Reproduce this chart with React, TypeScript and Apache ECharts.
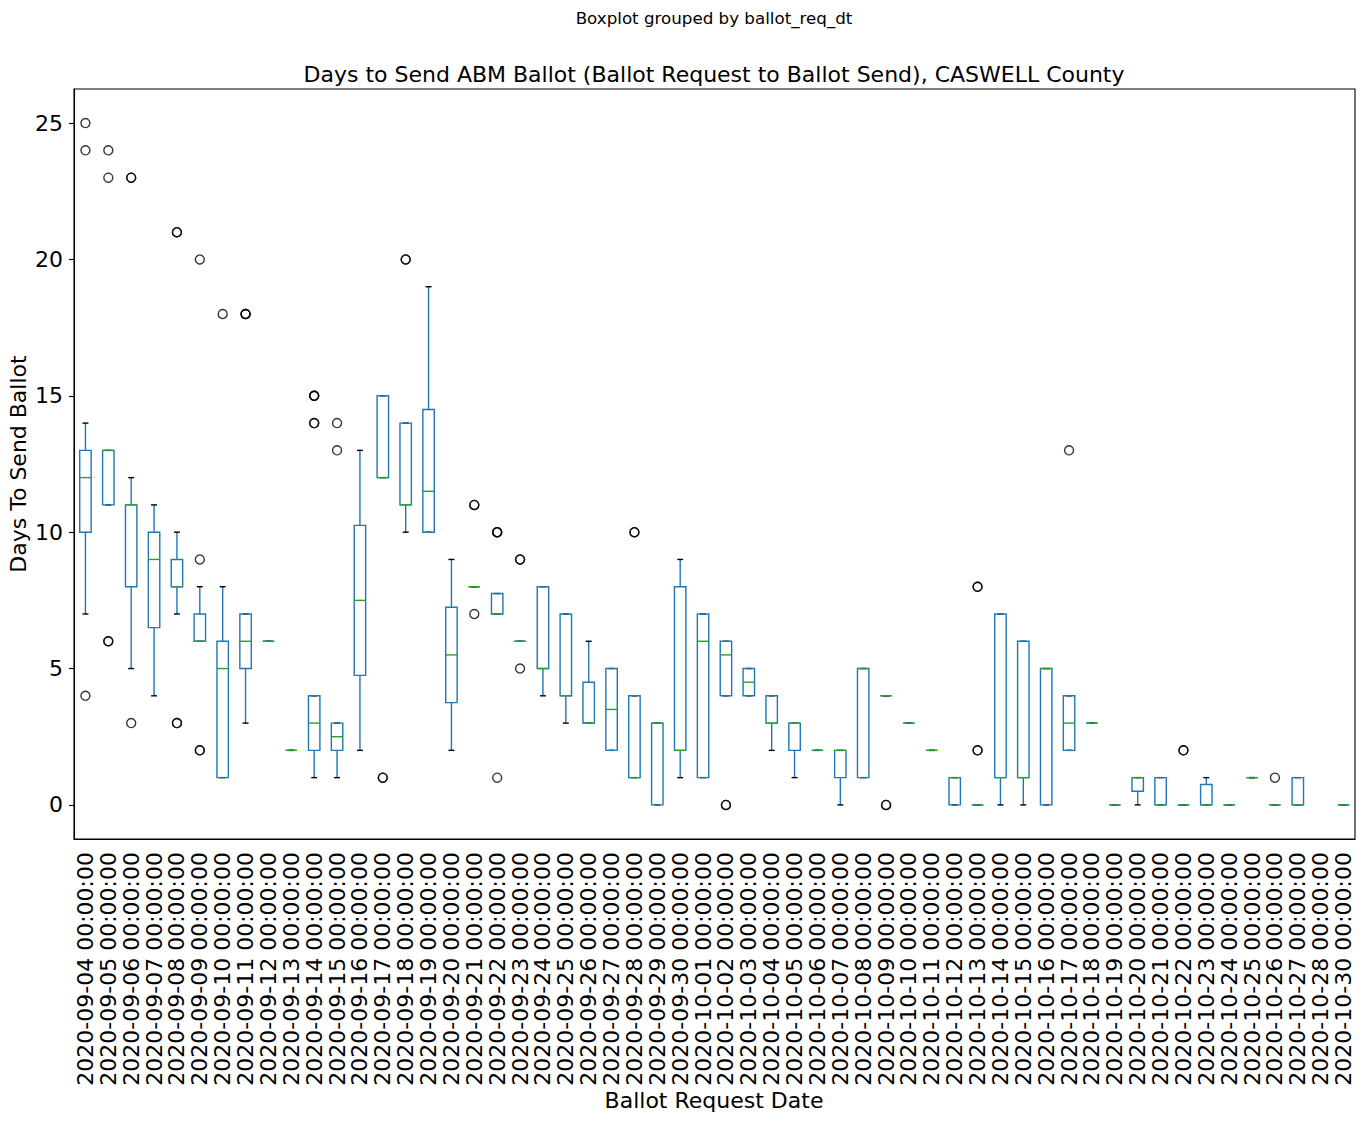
import React, { useEffect, useRef } from "react";
import * as echarts from "echarts";

const categories: string[] = [
  "2020-09-04", "2020-09-05", "2020-09-06", "2020-09-07", "2020-09-08", "2020-09-09", "2020-09-10",
  "2020-09-11", "2020-09-12", "2020-09-13", "2020-09-14", "2020-09-15", "2020-09-16", "2020-09-17",
  "2020-09-18", "2020-09-19", "2020-09-20", "2020-09-21", "2020-09-22", "2020-09-23", "2020-09-24",
  "2020-09-25", "2020-09-26", "2020-09-27", "2020-09-28", "2020-09-29", "2020-09-30", "2020-10-01",
  "2020-10-02", "2020-10-03", "2020-10-04", "2020-10-05", "2020-10-06", "2020-10-07", "2020-10-08",
  "2020-10-09", "2020-10-10", "2020-10-11", "2020-10-12", "2020-10-13", "2020-10-14", "2020-10-15",
  "2020-10-16", "2020-10-17", "2020-10-18", "2020-10-19", "2020-10-20", "2020-10-21", "2020-10-22",
  "2020-10-23", "2020-10-24", "2020-10-25", "2020-10-26", "2020-10-27", "2020-10-28", "2020-10-30",
];

// whisker low, Q1, median, Q3, whisker high (null = no data)
const lows: (number | null)[] = [
  7, 11, 5, 4, 7, 6, 1, 3, 6, 2, 1, 1, 2, 12, 10, 10, 2, 8, 7, 6, 4, 3, 3, 2, 1, 0, 1, 1,
  4, 4, 2, 1, 2, 0, 1, 4, 3, 2, 0, 0, 0, 0, 0, 2, 3, 0, 0, 0, 0, 0, 0, 1, 0, 0, null, 0,
];
const q1s: (number | null)[] = [
  10, 11, 8, 6.5, 8, 6, 1, 5, 6, 2, 2, 2, 4.75, 12, 11, 10, 3.75, 8, 7, 6, 5, 4, 3, 2, 1, 0, 2, 1,
  4, 4, 3, 2, 2, 1, 1, 4, 3, 2, 0, 0, 1, 1, 0, 2, 3, 0, 0.5, 0, 0, 0, 0, 1, 0, 0, null, 0,
];
const medians: (number | null)[] = [
  12, 13, 11, 9, 8, 6, 5, 6, 6, 2, 3, 2.5, 7.5, 12, 11, 11.5, 5.5, 8, 7, 6, 5, 4, 3, 3.5, 1, 3, 2, 6,
  5.5, 4.5, 3, 3, 2, 2, 5, 4, 3, 2, 1, 0, 1, 1, 5, 3, 3, 0, 1, 0, 0, 0, 0, 1, 0, 0, null, 0,
];
const q3s: (number | null)[] = [
  13, 13, 11, 10, 9, 7, 6, 7, 6, 2, 4, 3, 10.25, 15, 14, 14.5, 7.25, 8, 7.75, 6, 8, 7, 4.5, 5, 4, 3, 8, 7,
  6, 5, 4, 3, 2, 2, 5, 4, 3, 2, 1, 0, 7, 6, 5, 4, 3, 0, 1, 1, 0, 0.75, 0, 1, 0, 1, null, 0,
];
const highs: (number | null)[] = [
  14, 13, 12, 11, 10, 8, 8, 7, 6, 2, 4, 3, 13, 15, 14, 19, 9, 8, 7.75, 6, 8, 7, 6, 5, 4, 3, 9, 7,
  6, 5, 4, 3, 2, 2, 5, 4, 3, 2, 1, 0, 7, 6, 5, 4, 3, 0, 1, 1, 0, 1, 0, 1, 0, 1, null, 0,
];
// outliers: [category index, value]; repeated entries are repeated values (drawn on top of each other)
const outliers: [number, number][] = [
  [0, 25], [0, 24], [0, 4],
  [1, 24], [1, 23], [1, 6], [1, 6],
  [2, 23], [2, 23], [2, 3],
  [4, 21], [4, 21], [4, 3], [4, 3],
  [5, 20], [5, 9], [5, 2], [5, 2],
  [6, 18],
  [7, 18], [7, 18], [7, 18],
  [10, 15], [10, 15], [10, 15], [10, 14], [10, 14],
  [11, 14], [11, 13],
  [13, 1], [13, 1],
  [14, 20], [14, 20],
  [17, 11], [17, 11], [17, 7],
  [18, 10], [18, 10], [18, 10], [18, 1],
  [19, 9], [19, 9], [19, 5],
  [24, 10], [24, 10],
  [28, 0], [28, 0],
  [35, 0], [35, 0],
  [39, 8], [39, 8], [39, 2], [39, 2],
  [43, 13],
  [48, 2], [48, 2],
  [52, 1],
];
const yTicks: number[] = [0, 5, 10, 15, 20, 25];

const FONT = "DejaVu Sans";
const BLUE = "#1f77b4";
const GREEN = "#2ca02c";
const LW = 1.4;

export default function App() {
  const ref = useRef<HTMLDivElement>(null);
  useEffect(() => {
    if (!ref.current) return;
    const chart = echarts.init(ref.current, undefined, { renderer: "svg" });
    const boxData: number[][] = [];
    categories.forEach((_, i) => {
      if (lows[i] == null) return;
      boxData.push([i, lows[i] as number, q1s[i] as number, medians[i] as number, q3s[i] as number, highs[i] as number]);
    });
    const option: any = {
      animation: false,
      grid: { left: 74, right: 8, top: 89, bottom: 283, show: true, borderColor: "#000", borderWidth: 1.1 },
      xAxis: {
        type: "category",
        data: categories.map((c) => c + " 00:00:00"),
        boundaryGap: true,
        axisLine: { onZero: false, lineStyle: { color: "#000", width: 1.1 } },
        axisTick: { alignWithLabel: true, interval: 0, length: 5, lineStyle: { color: "#000", width: 1.1 } },
        axisLabel: { interval: 0, rotate: 90, fontSize: 22, fontFamily: FONT, color: "#000", margin: 13 },
        splitLine: { show: false },
      },
      yAxis: {
        type: "value",
        min: -1.25,
        max: 26.25,
        axisLine: { show: true, onZero: false, lineStyle: { color: "#000", width: 1.1 } },
        axisTick: { show: true, length: 5, customValues: yTicks, lineStyle: { color: "#000", width: 1.1 } },
        axisLabel: { customValues: yTicks, fontSize: 22, fontFamily: FONT, color: "#000", margin: 11 },
        splitLine: { show: false },
      },
      series: [
        {
          type: "custom",
          data: boxData,
          encode: { x: 0, y: [1, 2, 3, 4, 5] },
          renderItem: (params: any, api: any) => {
            const idx = api.value(0);
            const lo = api.value(1);
            const q1 = api.value(2);
            const md = api.value(3);
            const q3 = api.value(4);
            const hi = api.value(5);
            const band = api.size([1, 0])[0];
            const half = band * 0.25;
            const capHalf = band * 0.13;
            const pLo = api.coord([idx, lo]);
            const pQ1 = api.coord([idx, q1]);
            const pMd = api.coord([idx, md]);
            const pQ3 = api.coord([idx, q3]);
            const pHi = api.coord([idx, hi]);
            const x = pMd[0];
            return {
              type: "group",
              children: [
                { type: "line", shape: { x1: x, y1: pQ1[1], x2: x, y2: pLo[1] }, style: { stroke: BLUE, lineWidth: LW } },
                { type: "line", shape: { x1: x, y1: pQ3[1], x2: x, y2: pHi[1] }, style: { stroke: BLUE, lineWidth: LW } },
                { type: "line", shape: { x1: x - capHalf, y1: pLo[1], x2: x + capHalf, y2: pLo[1] }, style: { stroke: "#000", lineWidth: LW } },
                { type: "line", shape: { x1: x - capHalf, y1: pHi[1], x2: x + capHalf, y2: pHi[1] }, style: { stroke: "#000", lineWidth: LW } },
                {
                  type: "rect",
                  shape: { x: x - half, y: pQ3[1], width: half * 2, height: pQ1[1] - pQ3[1] },
                  style: { fill: "none", stroke: BLUE, lineWidth: LW },
                },
                { type: "line", shape: { x1: x - half, y1: pMd[1], x2: x + half, y2: pMd[1] }, style: { stroke: GREEN, lineWidth: LW } },
              ],
            };
          },
          z: 2,
        },
        {
          type: "scatter",
          data: outliers,
          symbol: "circle",
          symbolSize: 9,
          itemStyle: { color: "rgba(0,0,0,0)", borderColor: "#000", borderWidth: 1.4 },
          z: 3,
        },
      ],
      graphic: [
        {
          type: "text", x: 714, y: 18,
          style: { text: "Boxplot grouped by ballot_req_dt", fontSize: 16.7, fontFamily: FONT, fill: "#000", align: "center", verticalAlign: "middle" },
        },
        {
          type: "text", x: 714, y: 74,
          style: { text: "Days to Send ABM Ballot (Ballot Request to Ballot Send), CASWELL County", fontSize: 22, fontFamily: FONT, fill: "#000", align: "center", verticalAlign: "middle" },
        },
        {
          type: "text", x: 714, y: 1100,
          style: { text: "Ballot Request Date", fontSize: 22, fontFamily: FONT, fill: "#000", align: "center", verticalAlign: "middle" },
        },
        {
          type: "text", x: 18, y: 464, rotation: Math.PI / 2,
          style: { text: "Days To Send Ballot", fontSize: 22, fontFamily: FONT, fill: "#000", align: "center", verticalAlign: "middle" },
        },
      ],
    };
    chart.setOption(option);
    return () => chart.dispose();
  }, []);
  return <div ref={ref} style={{ position: "absolute", left: 0, top: 0, width: 1363, height: 1122 }} />;
}
